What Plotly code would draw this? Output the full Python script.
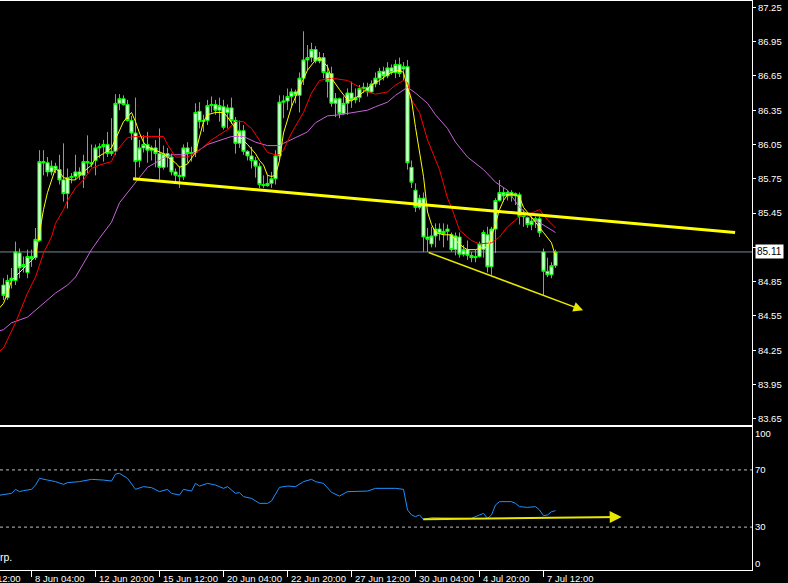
import plotly.graph_objects as go

# ---------------- data (H4 bars, index 0..138) ----------------
bar_index = list(range(139))

open_ = [84.82, 84.71, 84.86, 84.86, 85.10, 84.98, 84.93, 85.07, 85.06, 85.21,
         85.90, 85.89, 85.81, 85.86, 85.83, 85.74, 85.62, 85.76, 85.77, 85.81,
         85.78, 85.90, 85.89, 85.91, 86.02, 86.03, 86.05, 85.97, 85.99, 86.41,
         86.45, 86.40, 86.26, 86.15, 85.91, 86.02, 86.05, 86.00, 86.02, 85.97,
         85.85, 85.97, 85.94, 85.81, 85.78, 85.77, 86.02, 85.97, 85.98, 86.34,
         86.25, 86.26, 86.39, 86.40, 86.35, 86.38, 86.33, 86.37, 86.26, 86.06,
         86.17, 85.99, 85.95, 85.91, 85.86, 85.70, 85.69, 85.71, 85.75, 85.95,
         86.42, 86.43, 86.47, 86.51, 86.48, 86.63, 86.79, 86.81, 86.88, 86.78,
         86.81, 86.68, 86.67, 86.41, 86.45, 86.32, 86.41, 86.50, 86.44, 86.46,
         86.54, 86.55, 86.51, 86.58, 86.63, 86.69, 86.65, 86.72, 86.68, 86.75,
         86.71, 86.73, 85.85, 85.65, 85.50, 85.58, 85.24, 85.18, 85.25, 85.31,
         85.27, 85.29, 85.26, 85.13, 85.24, 85.09, 85.13, 85.08, 85.06, 85.07,
         85.13, 85.26, 84.98, 85.31, 85.56, 85.63, 85.60, 85.63, 85.60, 85.61,
         85.42, 85.41, 85.35, 85.38, 85.40, 85.11, 84.94, 84.91, 84.99]

high = [84.88, 84.91, 84.97, 85.20, 85.14, 85.07, 85.13, 85.13, 85.32, 86.00,
        86.00, 85.94, 85.91, 85.89, 85.96, 86.06, 85.84, 85.80, 85.96, 85.85,
        85.96, 86.13, 86.05, 86.05, 86.06, 86.09, 86.16, 86.28, 86.49, 86.49,
        86.48, 86.44, 86.30, 86.46, 86.09, 86.13, 86.16, 86.04, 86.09, 86.19,
        86.04, 86.02, 85.97, 85.84, 85.86, 86.05, 86.07, 86.03, 86.41, 86.42,
        86.31, 86.44, 86.47, 86.44, 86.46, 86.44, 86.40, 86.46, 86.29, 86.26,
        86.22, 86.00, 86.03, 85.94, 85.89, 85.78, 85.78, 85.81, 86.00, 86.48,
        86.48, 86.54, 86.54, 86.53, 86.68, 87.04, 86.92, 86.94, 86.91, 86.86,
        86.85, 86.75, 86.73, 86.50, 86.46, 86.47, 86.54, 86.60, 86.54, 86.57,
        86.59, 86.59, 86.61, 86.68, 86.72, 86.73, 86.77, 86.75, 86.79, 86.81,
        86.77, 86.79, 85.91, 85.71, 85.61, 85.63, 85.32, 85.33, 85.36, 85.36,
        85.36, 85.35, 85.28, 85.28, 85.28, 85.17, 85.21, 85.11, 85.13, 85.20,
        85.30, 85.33, 85.33, 85.58, 85.74, 85.67, 85.65, 85.65, 85.63, 85.63,
        85.48, 85.42, 85.42, 85.42, 85.42, 85.14, 85.06, 85.02, 85.13]

low = [84.69, 84.69, 84.79, 84.82, 84.88, 84.93, 84.88, 84.98, 85.04, 85.20,
       85.78, 85.77, 85.78, 85.80, 85.70, 85.55, 85.49, 85.71, 85.74, 85.74,
       85.67, 85.80, 85.85, 85.78, 85.93, 85.90, 85.94, 85.95, 85.96, 86.35,
       86.39, 86.25, 86.09, 85.76, 85.85, 85.98, 85.89, 85.91, 85.85, 85.74,
       85.83, 85.85, 85.78, 85.72, 85.67, 85.74, 85.89, 85.90, 85.94, 86.19,
       86.16, 86.22, 86.33, 86.31, 86.25, 86.18, 86.19, 86.23, 85.97, 86.02,
       85.96, 85.91, 85.84, 85.76, 85.67, 85.67, 85.68, 85.67, 85.70, 85.91,
       86.28, 86.35, 86.37, 86.41, 86.33, 86.57, 86.70, 86.77, 86.76, 86.76,
       86.63, 86.46, 86.38, 86.29, 86.28, 86.31, 86.31, 86.37, 86.41, 86.42,
       86.50, 86.47, 86.50, 86.55, 86.57, 86.61, 86.63, 86.66, 86.63, 86.64,
       86.61, 85.83, 85.67, 85.46, 85.48, 85.11, 85.11, 85.15, 85.15, 85.21,
       85.15, 85.21, 85.11, 85.08, 85.06, 85.07, 85.04, 85.02, 85.02, 85.06,
       85.06, 84.93, 84.91, 85.10, 85.55, 85.55, 85.56, 85.55, 85.52, 85.35,
       85.33, 85.32, 85.30, 85.32, 85.24, 84.73, 84.89, 84.88, 84.97]

close = [84.73, 84.86, 84.88, 85.11, 84.97, 85.00, 85.07, 85.05, 85.22, 85.90,
         85.89, 85.81, 85.86, 85.83, 85.74, 85.62, 85.76, 85.77, 85.81, 85.78,
         85.90, 85.89, 85.88, 86.02, 86.03, 86.05, 85.97, 85.99, 86.41, 86.45,
         86.40, 86.26, 86.15, 85.90, 86.02, 86.05, 86.00, 86.02, 85.97, 85.85,
         85.97, 85.94, 85.81, 85.78, 85.77, 86.02, 85.97, 85.98, 86.33, 86.25,
         86.26, 86.39, 86.40, 86.35, 86.39, 86.20, 86.37, 86.26, 86.06, 86.17,
         85.99, 85.95, 85.91, 85.86, 85.70, 85.69, 85.71, 85.75, 85.95, 86.42,
         86.43, 86.47, 86.51, 86.48, 86.63, 86.79, 86.81, 86.88, 86.78, 86.81,
         86.68, 86.60, 86.41, 86.45, 86.32, 86.41, 86.50, 86.44, 86.46, 86.54,
         86.55, 86.51, 86.58, 86.63, 86.69, 86.65, 86.72, 86.68, 86.75, 86.67,
         86.73, 85.89, 85.72, 85.50, 85.58, 85.24, 85.22, 85.25, 85.31, 85.27,
         85.29, 85.31, 85.13, 85.25, 85.09, 85.13, 85.08, 85.06, 85.07, 85.18,
         85.28, 84.98, 85.31, 85.56, 85.63, 85.60, 85.63, 85.60, 85.62, 85.42,
         85.44, 85.35, 85.38, 85.40, 85.28, 84.94, 84.91, 84.99, 85.11]

# fast moving average (yellow)
ma_fast_x = [-1, 0, 1, 2, 4, 6, 7, 8, 9, 10, 11, 12, 13, 14, 15, 17, 18, 20, 22, 23,
             25, 27, 28, 30, 31, 32, 33, 34, 35, 36, 38, 40, 41, 43, 44, 46, 48, 49, 50, 51,
             53, 55, 56, 58, 59, 61, 63, 64, 65, 66, 67, 68, 69, 70, 72, 74, 76, 78, 79, 81,
             82, 84, 86, 87, 89, 90, 92, 94, 96, 97, 99, 100, 101, 102, 103, 104, 105, 106, 107, 108,
             110, 112, 113, 115, 116, 118, 120, 121, 122, 123, 124, 125, 126, 128, 129, 130, 132, 133, 135, 137,
             138]
ma_fast_y = [84.62, 84.66, 84.75, 84.86, 84.93, 85.00, 85.04, 85.07, 85.28, 85.48, 85.63, 85.74, 85.84, 85.81, 85.76, 85.74, 85.74, 85.81, 85.87, 85.93,
             85.97, 86.02, 86.10, 86.25, 86.29, 86.33, 86.25, 86.15, 86.07, 86.03, 86.00, 85.97, 85.94, 85.89, 85.85, 85.88, 85.98, 86.12, 86.25, 86.31,
             86.33, 86.33, 86.29, 86.19, 86.12, 86.05, 85.97, 85.91, 85.87, 85.78, 85.77, 85.78, 85.91, 86.15, 86.38, 86.55, 86.70, 86.79, 86.81, 86.73,
             86.63, 86.53, 86.44, 86.43, 86.48, 86.51, 86.57, 86.61, 86.66, 86.68, 86.70, 86.68, 86.55, 86.44, 86.20, 85.98, 85.77, 85.46, 85.35, 85.28,
             85.26, 85.26, 85.21, 85.15, 85.13, 85.13, 85.15, 85.15, 85.24, 85.36, 85.48, 85.56, 85.61, 85.61, 85.59, 85.50, 85.42, 85.37, 85.28, 85.19,
             85.07]

# medium moving average (red)
ma_mid_x = [-1, 0, 3, 6, 8, 10, 12, 13, 15, 16, 18, 20, 22, 24, 27, 28, 31, 33, 37, 40,
            41, 43, 46, 49, 52, 56, 58, 60, 62, 64, 66, 68, 69, 70, 72, 75, 77, 79, 82, 86,
            88, 91, 93, 96, 98, 100, 101, 102, 104, 106, 109, 111, 112, 114, 117, 119, 122, 124, 126, 129,
            132, 134, 136, 138]
ma_mid_y = [84.24, 84.27, 84.49, 84.75, 84.89, 85.10, 85.24, 85.36, 85.48, 85.56, 85.67, 85.74, 85.84, 85.87, 85.90, 85.98, 86.11, 86.12, 86.12, 86.12,
            86.05, 85.94, 85.94, 86.00, 86.09, 86.18, 86.25, 86.25, 86.19, 86.09, 85.98, 85.96, 85.96, 86.00, 86.15, 86.33, 86.50, 86.61, 86.63, 86.61,
            86.57, 86.51, 86.49, 86.51, 86.57, 86.61, 86.59, 86.44, 86.33, 86.09, 85.83, 85.58, 85.50, 85.30, 85.21, 85.18, 85.19, 85.24, 85.33, 85.42,
            85.45, 85.48, 85.39, 85.32]

# slow moving average (purple)
ma_slow_x = [-1, 0, 2, 6, 8, 11, 13, 16, 18, 20, 22, 24, 27, 29, 31, 33, 36, 40, 42, 45,
             48, 51, 55, 57, 60, 63, 66, 69, 70, 73, 76, 78, 81, 84, 88, 91, 93, 96, 98, 101,
             103, 106, 108, 111, 113, 116, 120, 123, 126, 129, 132, 136, 138]
ma_slow_y = [84.42, 84.43, 84.49, 84.54, 84.60, 84.69, 84.75, 84.82, 84.89, 85.01, 85.13, 85.23, 85.37, 85.54, 85.63, 85.72, 85.85, 85.93, 85.96, 85.96,
             85.98, 86.05, 86.10, 86.12, 86.12, 86.07, 86.04, 86.04, 86.06, 86.11, 86.16, 86.24, 86.30, 86.31, 86.33, 86.35, 86.38, 86.42, 86.48, 86.55,
             86.50, 86.41, 86.31, 86.19, 86.07, 85.94, 85.83, 85.72, 85.65, 85.50, 85.41, 85.32, 85.28]

# RSI line
rsi_x = [-1, 2, 3, 4, 5, 7, 8, 9, 11, 13, 15, 16, 19, 22, 25, 27, 28, 29, 31, 32,
         33, 35, 37, 39, 41, 42, 44, 45, 47, 48, 49, 51, 53, 55, 56, 58, 59, 60, 62, 64,
         66, 67, 69, 71, 73, 75, 77, 78, 80, 82, 84, 86, 88, 91, 93, 96, 98, 100, 101, 102,
         103, 104, 105, 107, 109, 111, 114, 117, 119, 120, 121, 122, 123, 124, 127, 128, 129, 131, 133, 134,
         135, 136, 137, 138]
rsi_y = [52.3, 53.6, 56.4, 54.8, 55.5, 56.4, 59.4, 64.1, 62.9, 61.8, 59.9, 61.1, 61.8, 63.4, 62.9, 62.2, 67.1, 67.6, 64.1, 60.6,
         56.4, 58.3, 57.6, 54.8, 56.4, 53.6, 52.4, 56.4, 55.2, 60.6, 58.7, 60.6, 59.4, 57.1, 58.3, 53.6, 54.1, 51.3, 50.1, 46.6,
         46.6, 48.3, 57.8, 58.7, 58.3, 61.8, 63.4, 61.8, 60.6, 54.3, 51.7, 54.8, 54.8, 55.2, 57.1, 57.1, 57.1, 56.4, 42.0, 38.5,
         37.3, 38.5, 35.4, 36.6, 36.6, 36.1, 36.1, 36.1, 38.5, 39.6, 36.1, 38.5, 45.5, 47.8, 47.8, 46.6, 44.3, 43.8, 44.3, 42.0,
         38.0, 38.5, 40.8, 41.5]
rsi_levels = [70, 30]

# drawn objects
trend_main_x = [32.4, 182.9]
trend_main_y = [85.75, 85.28]
arrow_low_x = [105.9, 144.9]
arrow_low_y = [85.11, 84.60]
arrow_rsi_x = [104.55, 154.55]
arrow_rsi_y = [35.4, 37.1]
bid_price = 85.11

price_ticks = [87.25, 86.95, 86.65, 86.35, 86.05, 85.75, 85.45, 85.15, 84.85, 84.55, 84.25, 83.95, 83.65]
rsi_tick_vals = [95.1, 70, 30, 4.7]
rsi_tick_text = ["100", "70", "30", "0"]
time_tick_idx = [7, 23, 39, 55, 71, 87, 103, 119, 135]
time_tick_text = ["8 Jun 04:00", "12 Jun 20:00", "15 Jun 12:00", "20 Jun 04:00", "22 Jun 20:00",
                  "27 Jun 12:00", "30 Jun 04:00", "4 Jul 20:00", "7 Jul 12:00"]
prev_tick_idx = -9
prev_tick_text = "5 Jun 12:00"

# ---------------- figure ----------------
X_RANGE = [-0.875, 187.125]
FONT = "Liberation Sans, Arial, sans-serif"
FS = 9.5

fig = go.Figure()

fig.add_trace(go.Candlestick(
    x=bar_index, open=open_, high=high, low=low, close=close,
    increasing=dict(line=dict(color="#00FF00", width=1), fillcolor="#FFFFFF"),
    decreasing=dict(line=dict(color="#00FF00", width=1), fillcolor="#FFFFFF"),
    whiskerwidth=0, xaxis="x", yaxis="y", hoverinfo="skip", showlegend=False))

fig.add_trace(go.Scatter(x=ma_slow_x, y=ma_slow_y, mode="lines",
                         line=dict(color="#C864DC", width=1), xaxis="x", yaxis="y"))
fig.add_trace(go.Scatter(x=ma_mid_x, y=ma_mid_y, mode="lines",
                         line=dict(color="#FF0000", width=1), xaxis="x", yaxis="y"))
fig.add_trace(go.Scatter(x=ma_fast_x, y=ma_fast_y, mode="lines",
                         line=dict(color="#FFFF00", width=1), xaxis="x", yaxis="y"))
fig.add_trace(go.Scatter(x=trend_main_x, y=trend_main_y, mode="lines",
                         line=dict(color="#FFFF00", width=3), xaxis="x", yaxis="y"))

fig.add_trace(go.Scatter(x=rsi_x, y=rsi_y, mode="lines",
                         line=dict(color="#1E90FF", width=1), xaxis="x2", yaxis="y2"))

shapes = [dict(type="line", xref="paper", x0=0, x1=1, yref="y", y0=bid_price, y1=bid_price,
               line=dict(color="#778899", width=1), layer="below")]
for lv in rsi_levels:
    shapes.append(dict(type="line", xref="paper", x0=0, x1=1, yref="y2", y0=lv, y1=lv,
                       line=dict(color="#C0C0C0", width=1, dash="3px,3px")))

annotations = []
annotations.append(dict(x=arrow_low_x[1], y=arrow_low_y[1], ax=arrow_low_x[0], ay=arrow_low_y[0],
                        xref="x", yref="y", axref="x", ayref="y", text="", showarrow=True,
                        arrowhead=2, arrowsize=1.3, arrowwidth=1.5, arrowcolor="#E8E800", standoff=0))
annotations.append(dict(x=arrow_rsi_x[1], y=arrow_rsi_y[1], ax=arrow_rsi_x[0], ay=arrow_rsi_y[0],
                        xref="x2", yref="y2", axref="x2", ayref="y2", text="", showarrow=True,
                        arrowhead=2, arrowsize=1.2, arrowwidth=2, arrowcolor="#E8E800", standoff=0))
annotations.append(dict(x=1, xref="paper", xanchor="left", xshift=3, y=bid_price, yref="y",
                        text="85.11", showarrow=False, bgcolor="#FFFFFF", borderpad=1,
                        font=dict(color="#000000", size=FS + 0.5, family=FONT)))
for t, txt in zip(time_tick_idx, time_tick_text):
    annotations.append(dict(x=t, xref="x2", y=0, yref="paper", xanchor="left", yanchor="top",
                            xshift=1, yshift=-1, text=txt, showarrow=False,
                            font=dict(color="#FFFFFF", size=FS, family=FONT)))
annotations.append(dict(x=(prev_tick_idx - X_RANGE[0]) / (X_RANGE[1] - X_RANGE[0]), xref="paper",
                        y=0, yref="paper", xanchor="left", yanchor="top", xshift=1, yshift=-1,
                        text=prev_tick_text, showarrow=False,
                        font=dict(color="#FFFFFF", size=FS, family=FONT)))
annotations.append(dict(x=0, xref="paper", xanchor="left", y=0.023, yref="paper", yanchor="middle",
                        text="rp.", showarrow=False, xshift=-2,
                        font=dict(color="#FFFFFF", size=FS + 1, family=FONT)))

axis_common = dict(showgrid=False, zeroline=False, showline=True, linecolor="#FFFFFF", linewidth=1,
                   automargin=False)

fig.update_layout(
    width=788, height=583,
    margin=dict(l=0, r=36, t=1, b=13, pad=0, autoexpand=False),
    paper_bgcolor="#000000", plot_bgcolor="#000000",
    showlegend=False, hovermode=False,
    boxgap=0.2, boxgroupgap=0,
    font=dict(family=FONT, size=FS, color="#FFFFFF"),
    xaxis=dict(domain=[0, 1], range=X_RANGE, anchor="y", mirror=True, showticklabels=False,
               ticks="", rangeslider=dict(visible=False), **axis_common),
    xaxis2=dict(domain=[0, 1], range=X_RANGE, anchor="y2", matches="x", mirror=True,
                tickmode="array", tickvals=time_tick_idx, showticklabels=False,
                ticks="outside", ticklen=6, tickcolor="#FFFFFF", **axis_common),
    yaxis=dict(domain=[0.2548, 1], range=[83.596, 87.305], side="right", anchor="x",
               tickmode="array", tickvals=price_ticks, ticktext=[f"{v:.2f}" for v in price_ticks],
               ticks="outside", ticklen=3, tickcolor="#FFFFFF",
               tickfont=dict(color="#FFFFFF", size=FS, family=FONT), **axis_common),
    yaxis2=dict(domain=[0, 0.2513], range=[0, 100], side="right", anchor="x2",
                tickmode="array", tickvals=rsi_tick_vals, ticktext=rsi_tick_text, ticks="",
                tickfont=dict(color="#FFFFFF", size=FS, family=FONT), **axis_common),
    shapes=shapes, annotations=annotations,
)

fig.write_html("out.html", config={"displayModeBar": False, "staticPlot": True},
               post_script="document.body.style.margin='0';document.body.style.background='#000';")
